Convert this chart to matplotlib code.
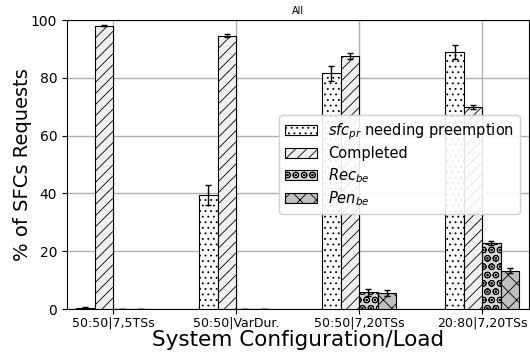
import numpy as np
import matplotlib
matplotlib.use('Agg')
import matplotlib.pyplot as plt

# Data
configs = ['50:50|7,5TSs', '50:50|VarDur.', '50:50|7,20TSs', '20:80|7,20TSs']
preempt = [0.5, 39.5, 81.5, 89.0]
preempt_err = [0.3, 3.5, 2.5, 2.5]
completed = [98.0, 94.5, 87.5, 70.0]
completed_err = [0.2, 0.5, 1.0, 0.7]
rec_be = [0.0, 0.0, 5.8, 23.0]
rec_be_err = [0.0, 0.0, 1.2, 0.7]
pen_be = [0.0, 0.0, 5.5, 13.3]
pen_be_err = [0.0, 0.0, 1.0, 0.8]

labels = [r'$sfc_{pr}$ needing preemption', 'Completed', r'$Rec_{be}$', r'$Pen_{be}$']
colors = ['#fbfbfb', '#f0f0f0', '#d4d4d4', '#c0c0c0']
hatches = ['...', '///', 'OO..', 'xx']

plt.rcParams['hatch.linewidth'] = 0.6

fig = plt.figure(figsize=(5.3, 3.54), dpi=100)
ax = fig.add_axes([0.1264, 0.1271, 0.8716, 0.8164])

x = np.arange(len(configs))
w = 0.15
series = [(preempt, preempt_err), (completed, completed_err),
          (rec_be, rec_be_err), (pen_be, pen_be_err)]
for i, (vals, errs) in enumerate(series):
    ax.bar(x + (i - 1.5) * w, vals, w, yerr=errs, capsize=2.5,
           color=colors[i], edgecolor='black', linewidth=0.8,
           hatch=hatches[i], label=labels[i],
           error_kw=dict(elinewidth=1, ecolor='black'), zorder=3)

ax.set_xticks(x)
ax.set_xticklabels(configs, fontsize=9)
ax.set_xlim(-0.375, 3.38)
ax.set_ylim(0, 100)
ax.set_yticks([0, 20, 40, 60, 80, 100])
ax.tick_params(axis='y', labelsize=10)
ax.tick_params(axis='x', pad=2)
ax.grid(True, color='#b0b0b0', linewidth=1, zorder=0)
ax.set_axisbelow(True)
ax.set_xlabel('System Configuration/Load', fontsize=15.5, labelpad=0)
ax.set_ylabel('% of SFCs Requests', fontsize=14, labelpad=-1)
ax.set_title('All', fontsize=7, pad=4)
ax.legend(fontsize=10.5, loc='center right', bbox_to_anchor=(0.997, 0.5),
          handlelength=2.2, labelspacing=0.32, borderpad=0.4, framealpha=0.9)

fig.savefig('out.png', dpi=100)
